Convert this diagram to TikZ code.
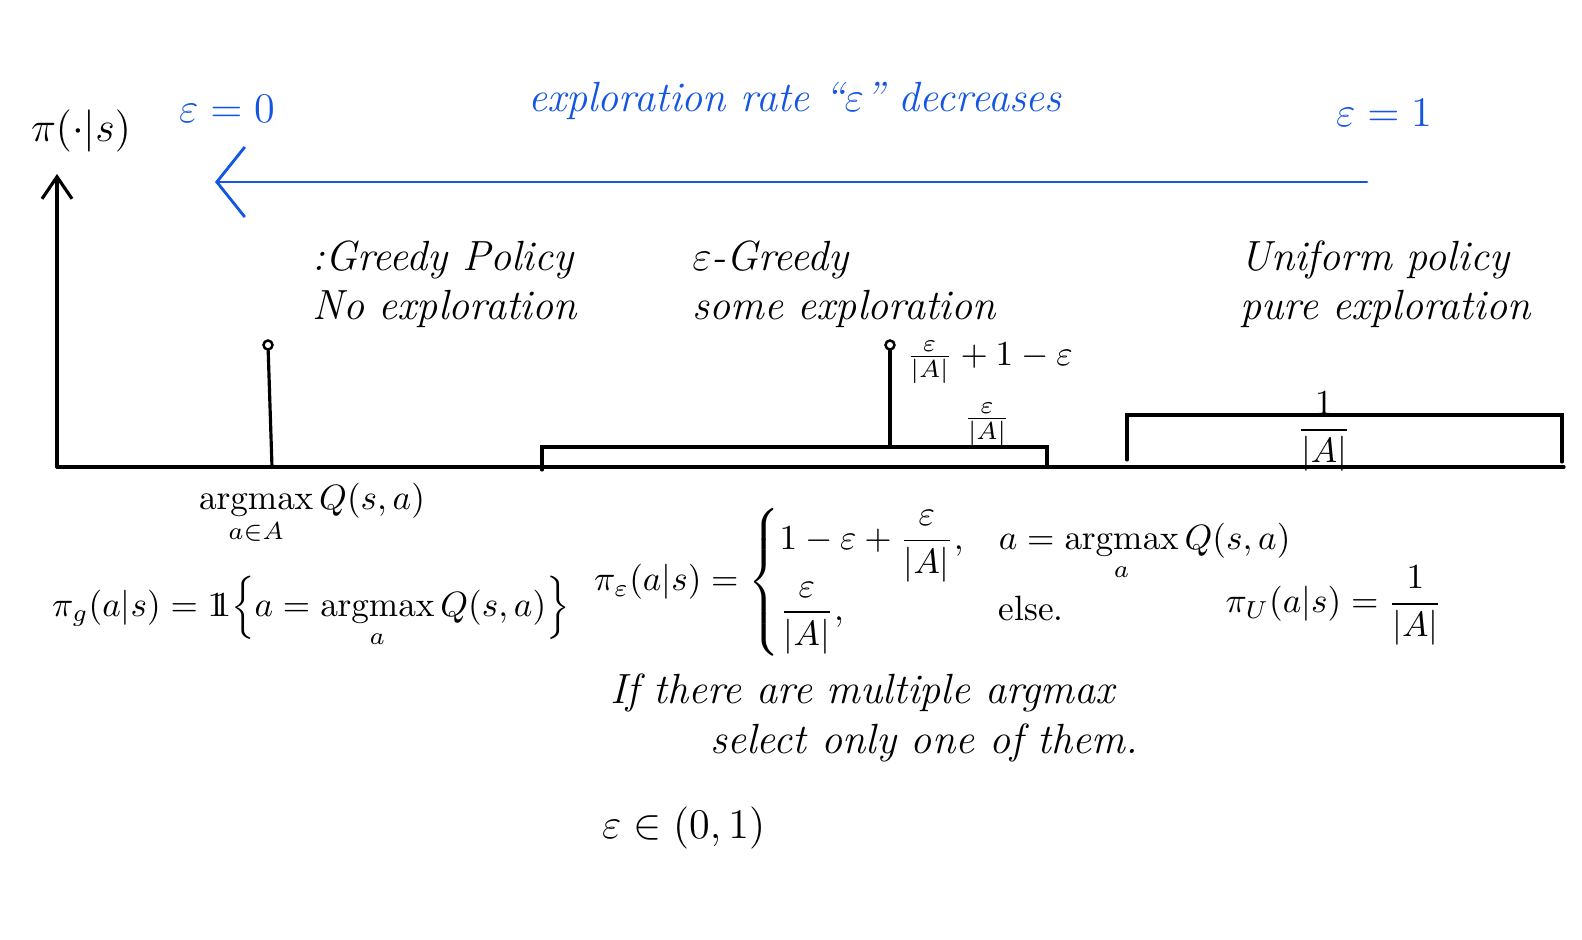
\documentclass[tikz,border=0pt]{standalone}
\usepackage{amsmath,amssymb}
\usepackage{tikz}
\usetikzlibrary{arrows.meta,positioning,calc}

\definecolor{penblue}{RGB}{20,85,225}
\newcommand{\indic}{1\!\!1}

\tikzset{
  pen/.style={line width=0.9pt, line cap=round},
  bluepen/.style={line width=0.8pt, line cap=round, draw=penblue},
  tipdot/.style={circle, draw, line width=0.7pt, inner sep=0pt, minimum size=0.9mm},
  hand/.style={font=\large\itshape, align=left},
  bluehand/.style={hand, text=penblue},
  formula/.style={font=\normalsize, inner sep=1pt},
}

\begin{document}
\begin{tikzpicture}[x=0.01cm, y=-0.01cm]
    \useasboundingbox (0,0) rectangle (1582,940);

    % axes
    \coordinate (origin) at (57,467);
    \coordinate (ytop) at (57,174);
    \coordinate (xend) at (1564,467);
    \draw[pen, -{Straight Barb[length=2.2mm, width=3mm]}] (origin) -- (ytop);
    \draw[pen] (origin) -- (xend);
    \node[font=\large] (pilabel) at (81,131) {$\pi(\cdot|s)$};

    % exploration rate goes down from right to left
    \coordinate (arrstart) at (1367,182);
    \coordinate (arrend) at (215,182);
    \draw[bluepen, -{Straight Barb[length=2.8mm, width=7mm]}] (arrstart) -- (arrend);
    \node[bluehand] (epszero) at (227,109) {$\varepsilon=0$};
    \node[bluehand] (epsone) at (1384,113) {$\varepsilon=1$};
    \node[bluehand] (rate) at (795,101) {exploration rate ``$\varepsilon$'' decreases};

    % greedy
    \coordinate (gbase) at (272,467);
    \node[tipdot] (gtop) at (268,345) {};
    \draw[pen] (gbase) -- (gtop);
    \node[hand, anchor=west] (greedy) at (300,284) {:Greedy Policy\\No exploration};

    % epsilon-greedy
    \coordinate (eleft) at (542,470);
    \coordinate (eright) at (1047,447);
    \draw[pen] (eleft) |- (eright) -- (eright |- origin);
    \coordinate (ebase) at (890,445);
    \node[tipdot] (etop) at (890,345) {};
    \draw[pen] (ebase) -- (etop);
    \node[anchor=west] (epeak) at (894,362) {$\frac{\varepsilon}{|A|}+1-\varepsilon$};
    \node (elow) at (987,424) {$\frac{\varepsilon}{|A|}$};
    \node[hand, anchor=west] (egreedy) at (680,284) {$\varepsilon$-Greedy\\some exploration};

    % uniform
    \coordinate (uleft) at (1127,460);
    \coordinate (uright) at (1562,415);
    \draw[pen] (uleft) |- (uright) -- (1562,462);
    \node[inner sep=1pt] (uval) at (1324,432) {$\dfrac{1}{|A|}$};
    \node[hand, anchor=west] (uniform) at (1228,284) {Uniform policy\\pure exploration};

    % policies written out
    \node[formula] (gargmax) at (312,514) {$\operatorname*{argmax}\limits_{a\in A} Q(s,a)$};
    \node[formula, anchor=west] (gpolicy) at (48,612) {$\pi_g(a|s) = \indic\Bigl\{a=\operatorname*{argmax}\limits_a Q(s,a)\Bigr\}$};
    \node[formula, anchor=west] (epolicy) at (590,582) {$\pi_{\varepsilon}(a|s) = \begin{cases} 1-\varepsilon+\dfrac{\varepsilon}{|A|}, & a=\operatorname*{argmax}\limits_a Q(s,a)\\[2pt] \dfrac{\varepsilon}{|A|}, & \text{else.}\end{cases}$};
    \node[formula] (upolicy) at (1334,606) {$\pi_U(a|s)=\dfrac{1}{|A|}$};
    \node[hand, anchor=west] (note) at (598,718) {If there are multiple argmax\\\hspace*{1cm}select only one of them.};
    \node[formula, font=\large, anchor=west] (range) at (598,828) {$\varepsilon\in(0,1)$};
\end{tikzpicture}
\end{document}
